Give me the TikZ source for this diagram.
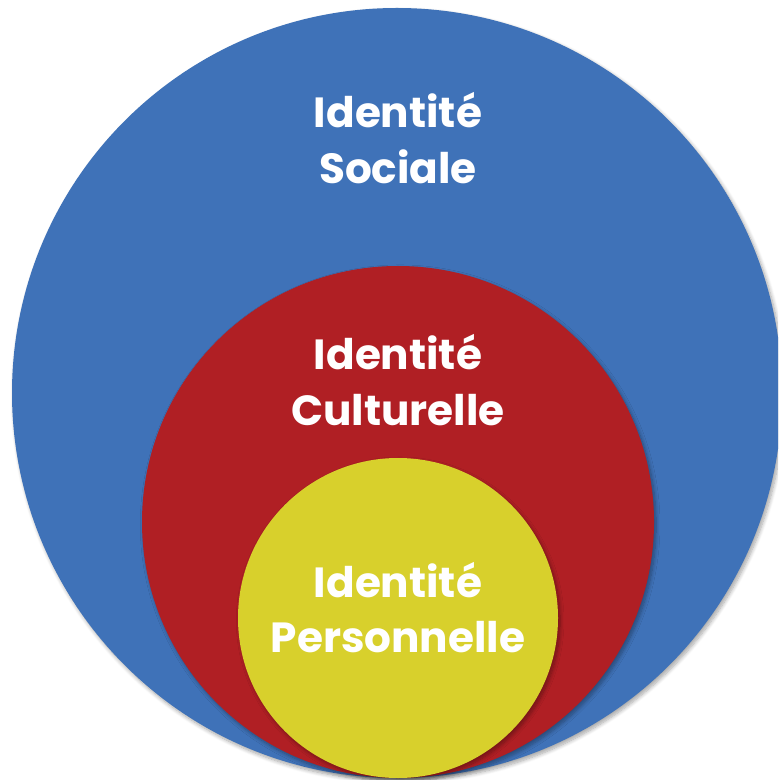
\documentclass[tikz,border=0pt]{standalone}
\usepackage{fontspec}
\setmainfont{Poppins}
\usetikzlibrary{positioning, shadows.blur}
\definecolor{socialblue}{RGB}{63,114,184}
\definecolor{culturered}{RGB}{176,31,36}
\definecolor{persoyellow}{RGB}{216,208,44}
\tikzset
{
disc/.style={circle, inner sep=0pt, draw=none, blur shadow={shadow xshift=1.2pt, shadow yshift=-1.6pt, shadow blur steps=8, shadow opacity=35}},
label/.style={text=white, align=center, font=\fontsize{24}{31.5}\selectfont\bfseries}
}
\begin{document}
\begin{tikzpicture}
	\useasboundingbox (0,0) rectangle (15.56,-15.6);
	\clip (0,0) rectangle (15.56,-15.6);
	\node[disc, fill=socialblue, minimum size=15.4cm] (sociale) at (7.94,-7.86) {};
	\node[disc, fill=culturered, minimum size=10.24cm] (culture) at (7.96,-10.44) {};
	\node[disc, fill=persoyellow, minimum size=6.4cm] (perso) at (7.96,-12.36) {};

	\node[label] (tsociale) at (7.96,-2.76) {Identité\\Sociale};
	\node[label] (tculture) at (7.96,-7.60) {Identité\\Culturelle};
	\node[label] (tperso) at (7.96,-12.15) {Identité\\Personnelle};
\end{tikzpicture}
\end{document}
